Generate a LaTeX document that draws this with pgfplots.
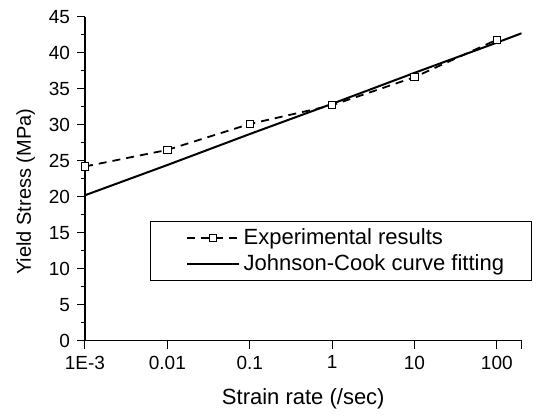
\documentclass[border=0pt]{standalone}
\usepackage{fontspec}
\setmainfont{Liberation Sans}
\usepackage{pgfplots}
\pgfplotsset{compat=1.18}
\begin{document}
\begin{tikzpicture}
\begin{axis}[
  name=ax,
  scale only axis,
  width=218.3pt, height=162pt,
  xmode=log, log basis x=10,
  xmin=0.001, xmax=200,
  ymin=0, ymax=45,
  axis x line*=bottom, axis y line*=left,
  axis line style={-, line width=0.6pt},
  tick align=outside,
  major tick length=4pt, minor tick length=2pt,
  tick style={black, line width=0.5pt},
  xtick={0.001,0.01,0.1,1,10,100},
  xticklabels={1E-3,0.01,0.1,1,10,100},
  extra x ticks={200}, extra x tick labels={},
  ytick={0,5,...,45},
  minor y tick num=1,
  /pgf/number format/assume math mode=true,
  ticklabel style={font=\fontsize{9.5}{11}\selectfont},
  label style={font=\fontsize{11}{13}\selectfont},
  xlabel={Strain rate (/sec)},
  xlabel style={yshift=5pt},
  ylabel={Yield Stress (MPa)},
  every axis y label/.style={at={(ticklabel cs:0.46)}, rotate=90, anchor=south},
  legend style={
    at={(rel axis cs:0.149,0.369)}, anchor=north west,
    draw=black, line width=0.4pt,
    inner xsep=18pt, inner ysep=1.5pt,
    font=\fontsize{11}{13}\selectfont,
    row sep=-0.5pt,
  },
  legend cell align=left,
]
\addplot[black, line width=0.9pt, dash pattern=on 4pt off 3pt,
  mark=square*, mark size=1.8pt,
  mark options={solid, fill=white, draw=black, line width=0.4pt},
  legend image code/.code={
    \draw[mark repeat=2, mark phase=2] plot coordinates {(0cm,0cm) (0.45cm,0cm) (0.9cm,0cm)};}
] coordinates {
  (0.001,24.2) (0.01,26.5) (0.1,30.1) (1,32.7) (10,36.6) (100,41.8)
};
\addlegendentry{\makebox[124pt][l]{Experimental results}}
\addplot[black, line width=1pt,
  legend image code/.code={\draw (0cm,0cm) -- (0.9cm,0cm);}
] coordinates {
  (0.001,20.2) (0.01,24.4) (0.1,28.7) (1,32.9) (10,37.2) (100,41.4) (200,42.7)
};
\addlegendentry{\makebox[124pt][l]{Johnson-Cook curve fitting}}
\end{axis}
\path (ax.south west) ++(-42.5pt,-31.15pt) rectangle ++(269pt,201.5pt);
\end{tikzpicture}
\end{document}
